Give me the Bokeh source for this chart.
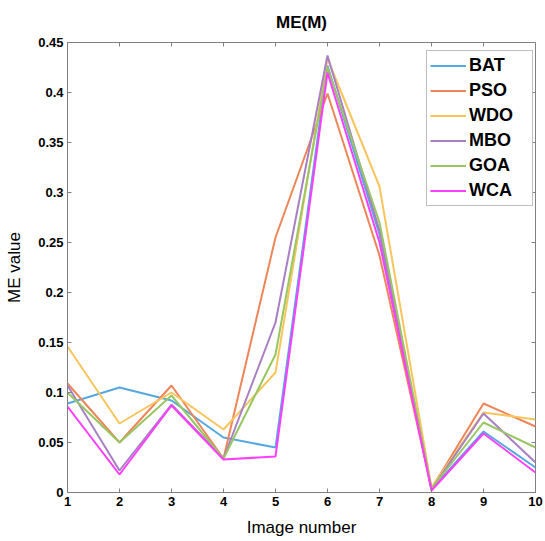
import math
from bokeh.plotting import figure
from bokeh.models import (Range1d, FixedTicker, CustomJSTickFormatter,
                          Legend, LegendItem)
from bokeh.embed import file_html
from bokeh.resources import INLINE

images = [1, 2, 3, 4, 5, 6, 7, 8, 9, 10]
series_names = ["BAT", "PSO", "WDO", "MBO", "GOA", "WCA"]
BAT = [0.089, 0.105, 0.092, 0.055, 0.045, 0.427, 0.258, 0.003, 0.061, 0.025]
PSO = [0.109, 0.050, 0.107, 0.034, 0.255, 0.399, 0.237, 0.004, 0.089, 0.066]
WDO = [0.146, 0.069, 0.100, 0.063, 0.120, 0.434, 0.306, 0.005, 0.080, 0.073]
MBO = [0.107, 0.022, 0.088, 0.034, 0.170, 0.437, 0.262, 0.003, 0.079, 0.030]
GOA = [0.100, 0.050, 0.097, 0.034, 0.138, 0.425, 0.270, 0.004, 0.070, 0.045]
WCA = [0.086, 0.018, 0.087, 0.033, 0.036, 0.420, 0.250, 0.002, 0.059, 0.020]
y_ticks = [0, 0.05, 0.1, 0.15, 0.2, 0.25, 0.3, 0.35, 0.4, 0.45]

colors = ["#55A8E0", "#EE8559", "#F8C55C", "#A87FC4", "#97C662", "#FF3DFF"]
data = [BAT, PSO, WDO, MBO, GOA, WCA]

FONT = "Liberation Sans"
AX = "#808080"
X_MIN, X_MAX = images[0], images[-1]
Y_MIN, Y_MAX = y_ticks[0], y_ticks[-1]

p = figure(width=545, height=541, output_backend="svg", toolbar_location=None,
           x_range=Range1d(X_MIN, X_MAX), y_range=Range1d(Y_MIN, Y_MAX),
           min_border_left=67, min_border_right=10, min_border_top=42,
           min_border_bottom=49)
p.title.text = "ME(M)"
p.title.align = "center"
p.title.text_font = FONT
p.title.text_font_size = "17px"
p.title.text_font_style = "bold"
p.title.text_color = "black"
p.title.standoff = 21
p.outline_line_color = AX
p.xgrid.visible = False
p.ygrid.visible = False

renderers = []
for name, vals, c in zip(series_names, data, colors):
    r = p.line(images, vals, line_color=c, line_width=2)
    renderers.append((name, r))

# inward ticks on the top and right edges of the box
p.ray(x=images, y=[Y_MAX] * len(images), length=4, length_units="screen",
      angle=-math.pi / 2, line_color=AX, line_width=1)
p.ray(x=[X_MAX] * len(y_ticks), y=y_ticks, length=4, length_units="screen",
      angle=math.pi, line_color=AX, line_width=1)

fmt = CustomJSTickFormatter(code="var s = tick.toFixed(2); s = s.replace(/0+$/, ''); s = s.replace(/\\.$/, ''); return s;")

def style_axis(ax):
    ax.axis_line_color = AX
    ax.major_tick_line_color = AX
    ax.major_tick_in = 4
    ax.major_tick_out = 0
    ax.minor_tick_line_color = None
    ax.major_label_text_font = FONT
    ax.major_label_text_font_style = "bold"
    ax.major_label_text_font_size = "13px"
    ax.major_label_text_color = "black"
    ax.axis_label_text_font = FONT
    ax.axis_label_text_font_size = "17px"
    ax.axis_label_text_font_style = "normal"
    ax.axis_label_text_color = "black"

xa = p.xaxis[0]
xa.ticker = FixedTicker(ticks=images)
xa.axis_label = "Image number"
style_axis(xa)
xa.major_label_standoff = 4
xa.axis_label_standoff = 9

ya = p.yaxis[0]
ya.ticker = FixedTicker(ticks=y_ticks)
ya.formatter = fmt
ya.axis_label = "ME value"
style_axis(ya)
ya.major_label_standoff = 4
ya.axis_label_standoff = 11

legend = Legend(items=[LegendItem(label=n, renderers=[r]) for n, r in renderers],
                location=(359, 286))
legend.label_text_font = FONT
legend.label_text_font_style = "bold"
legend.label_text_font_size = "18px"
legend.label_text_color = "black"
legend.glyph_width = 36
legend.glyph_height = 23
legend.label_height = 23
legend.label_width = 60
legend.label_standoff = 3
legend.spacing = 2
legend.padding = 3
legend.margin = 0
legend.border_line_color = AX
legend.border_line_width = 1
legend.background_fill_color = "white"
legend.background_fill_alpha = 1
p.add_layout(legend, "center")

open("out.html", "w").write(file_html(p, INLINE))
